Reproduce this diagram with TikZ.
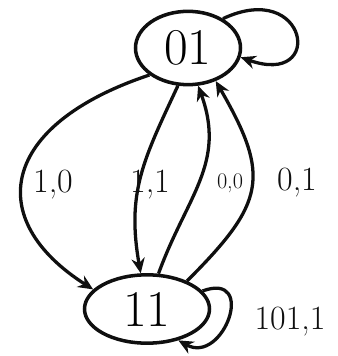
\documentclass[tikz,border=0pt]{standalone}
\usepackage{fontspec}
\usetikzlibrary{arrows.meta,positioning,shapes.geometric}
\definecolor{ink}{RGB}{15,15,15}
\tikzset{
  >={Stealth[length=4.5mm,width=4mm]},
  state/.style={ellipse,draw=ink,line width=3pt,inner sep=0pt,
    minimum width=#1,font=\fontsize{44}{44}\selectfont},
  flow/.style={->,line width=2.8pt,draw=ink},
  tag/.style={font=\fontsize{29}{29}\selectfont,text=ink},
  small tag/.style={font=\fontsize{19}{19}\selectfont,text=ink},
}
\begin{document}
\begin{tikzpicture}[x=0.03cm,y=0.03cm]
  \useasboundingbox (0,0) rectangle (338,356);
  % states
  \node[state=3.15cm,minimum height=2.2cm] (q01) at (188,308) {01};
  \node[state=3.75cm,minimum height=2.05cm] (q11) at (147,47) {11};
  % transitions between the states
  \draw[flow] (q01.215) .. controls +(-150,-50) and +(-110,70) .. (q11.160);
  \draw[flow] (q01.255) to[out=245,in=100,looseness=1.1] (q11.100);
  \draw[flow] (q11.72) to[out=70,in=290,looseness=1.1] (q01.285);
  \draw[flow] (q11.35) to[out=45,in=300,looseness=1.4] (q01.310);
  % self loops
  \draw[flow] (q01.40) .. controls +(85,40) and +(85,-30) .. (q01.-10);
  \draw[flow] (q11.18) .. controls +(55,20) and +(45,-25) .. (q11.-45);
  % labels
  \node[tag] (l10) at (53,171) {1,0};
  \node[tag] (l11) at (150,171) {1,1};
  \node[small tag] (l00) at (230,173) {0,0};
  \node[tag] (l01) at (297,173) {0,1};
  \node[tag] (lsl) at (290,34) {101,1};
\end{tikzpicture}
\end{document}
